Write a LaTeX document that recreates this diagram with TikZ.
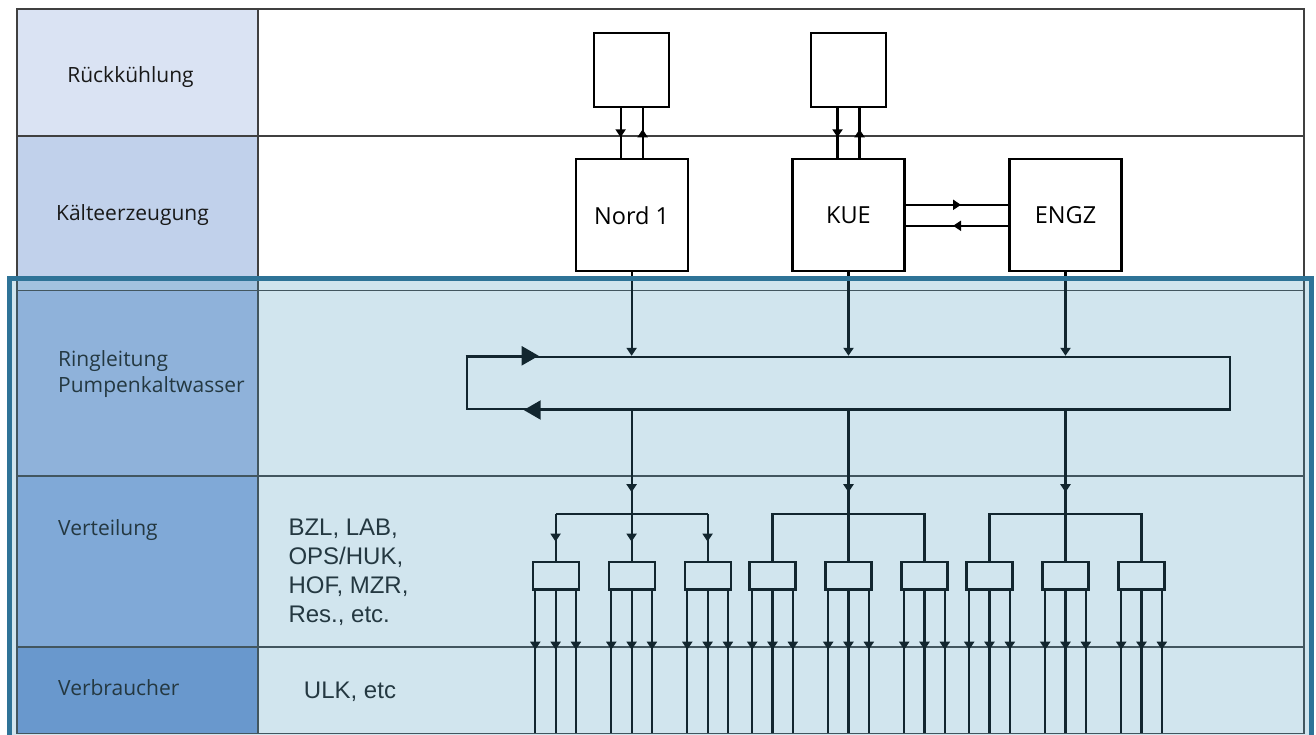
\documentclass[tikz,border=0pt]{standalone}
\usepackage{fontspec}
\setmainfont{Open Sans}
\newfontfamily\arialfont{Liberation Sans}
\usetikzlibrary{arrows.meta}
\usetikzlibrary{decorations.markings}

\definecolor{rkfill}{HTML}{DAE3F3}
\definecolor{kefill}{HTML}{C1D1EB}
\definecolor{rlfill}{HTML}{A7BCE5}
\definecolor{vtfill}{HTML}{93AFE1}
\definecolor{vbfill}{HTML}{7598D3}
\definecolor{tint}{HTML}{4898BC}
\definecolor{framecol}{HTML}{2E7397}
\definecolor{linecol}{HTML}{404040}

\begin{document}
\begin{tikzpicture}[
    x=1pt, y=-1pt,
    font=\fontsize{21pt}{26pt}\selectfont,
    tableline/.style={draw=linecol, line width=1.1pt},
    rowlabel/.style={text=black!90, inner sep=0pt},
    sitelabel/.style={font=\arialfont\fontsize{24pt}{29pt}\selectfont, text=black!90, inner sep=0pt, align=left},
    unit/.style={rectangle, draw, line width=2.2pt, minimum width=112pt, minimum height=112pt, inner sep=0pt, font=\fontsize{23.5pt}{28pt}\selectfont},
    recooler/.style={rectangle, draw, line width=2.2pt, minimum width=75pt, minimum height=74pt},
    ringbox/.style={rectangle, draw, line width=2.2pt, minimum width=763pt, minimum height=52pt, inner sep=0pt},
    distbox/.style={rectangle, draw, line width=2.2pt, minimum width=46pt, minimum height=27.5pt, inner sep=0pt},
    pipe/.style={line width=2.2pt},
    smalltip/.tip={Triangle[length=8pt,width=10pt]},
    bigtip/.tip={Triangle[length=17pt,width=19pt]},
    midarrow/.style={postaction={decorate}, decoration={markings, mark=at position #1 with {\arrow[xshift=4pt]{smalltip}}}},
    midarrow/.default=0.5
]
\useasboundingbox (0,0) rectangle (1316,735);

% Tabelle
\fill[rkfill] (17,9) rectangle (258,136);
\fill[kefill] (17,136) rectangle (258,290.7);
\fill[rlfill] (17,290.7) rectangle (258,476);
\fill[vtfill] (17,476) rectangle (258,647);
\fill[vbfill] (17,647) rectangle (258,733.3);
\draw[tableline] (17,9) rectangle (1304,733.3);
\draw[tableline] (258,9) -- (258,733.3);
\draw[tableline] (17,136) -- (1304,136);
\draw[tableline] (17,290.7) -- (1304,290.7);
\draw[tableline] (17,476) -- (1304,476);
\draw[tableline] (17,647) -- (1304,647);

% Zeilen links
\node[rowlabel, anchor=base] (lrk) at (130.5,83) {Rückkühlung};
\node[rowlabel, anchor=base] (lke) at (132.5,220.5) {Kälteerzeugung};
\node[rowlabel, anchor=base west, align=left] (lrl) at (58,392.7) {Ringleitung\\Pumpenkaltwasser};
\node[rowlabel, anchor=base west] (lvt) at (58,535) {Verteilung};
\node[rowlabel, anchor=base west] (lvb) at (58,695) {Verbraucher};
\node[sitelabel, anchor=base west] (lbzl) at (288.3,622.5) {BZL, LAB,\\OPS/HUK,\\HOF, MZR,\\Res., etc.};
\node[sitelabel, anchor=base] (lulk) at (350,698.3) {ULK, etc};

% Rueckkuehlung und Kaelteerzeugung
\node[recooler] (rk1) at (631.6,70.3) {};
\node[recooler] (rk2) at (848.5,70.3) {};
\node[unit] (nord) at (631.6,215.3) {Nord 1};
\node[unit] (kue) at (848.5,215.3) {KUE};
\node[unit] (engz) at (1065.5,215.3) {ENGZ};

\draw[pipe, midarrow] ([xshift=-11pt]rk1.south) -- ([xshift=-11pt]nord.north);
\draw[pipe, midarrow] ([xshift=11pt]nord.north) -- ([xshift=11pt]rk1.south);
\draw[pipe, midarrow] ([xshift=-11pt]rk2.south) -- ([xshift=-11pt]kue.north);
\draw[pipe, midarrow] ([xshift=11pt]kue.north) -- ([xshift=11pt]rk2.south);
\draw[pipe, midarrow] ([yshift=10.5pt]kue.east) -- ([yshift=10.5pt]engz.west);
\draw[pipe, midarrow] ([yshift=-10.5pt]engz.west) -- ([yshift=-10.5pt]kue.east);

% Ringleitung
\node[ringbox] (ring) at (848.3,382.9) {};
\draw[pipe, -smalltip] (nord.south) -- (nord.south |- ring.north);
\draw[pipe, -smalltip] (kue.south) -- (kue.south |- ring.north);
\draw[pipe, -smalltip] (engz.south) -- (engz.south |- ring.north);
\draw[pipe, -bigtip] (ring.north west) -- ([xshift=73pt]ring.north west);
\draw[pipe, -bigtip] (ring.south east) -- ([xshift=58pt]ring.south west);

% Verteilung
\coordinate (h1) at (631.6,514.3);
\coordinate (h2) at (848.5,514.3);
\coordinate (h3) at (1065.5,514.3);
\draw[pipe, midarrow=.75] (ring.south -| h1) -- (h1);
\draw[pipe, midarrow=.75] (ring.south -| h2) -- (h2);
\draw[pipe, midarrow=.75] (ring.south -| h3) -- (h3);

\node[distbox] (v1) at (555.6,575.8) {};
\node[distbox] (v2) at (631.6,575.8) {};
\node[distbox] (v3) at (707.6,575.8) {};
\node[distbox] (v4) at (772.5,575.8) {};
\node[distbox] (v5) at (848.5,575.8) {};
\node[distbox] (v6) at (924.5,575.8) {};
\node[distbox] (v7) at (989.5,575.8) {};
\node[distbox] (v8) at (1065.5,575.8) {};
\node[distbox] (v9) at (1141.5,575.8) {};

\draw[pipe] (v1.north |- h1) -- (v3.north |- h1);
\draw[pipe, midarrow] (v1.north |- h1) -- (v1.north);
\draw[pipe, midarrow] (h1) -- (v2.north);
\draw[pipe, midarrow] (v3.north |- h1) -- (v3.north);
\draw[pipe] (v4.north) |- (h2) -| (v6.north);
\draw[pipe] (h2) -- (v5.north);
\draw[pipe] (v7.north) |- (h3) -| (v9.north);
\draw[pipe] (h3) -- (v8.north);

% Verbraucher
\coordinate (bot) at (0,733.3);
\foreach \i in {1,...,9}
  \foreach \dx in {-20.3,0,20.3}
    \draw[pipe, midarrow=.386] ([xshift=\dx pt]v\i.south) -- ([xshift=\dx pt]v\i.south |- bot);

% Rahmen Pumpenkaltwasser
\fill[tint, fill opacity=0.25] (9,278.5) rectangle (1311,745);
\draw[framecol, line width=5pt] (9,278.5) rectangle (1311,745);

\end{tikzpicture}
\end{document}
